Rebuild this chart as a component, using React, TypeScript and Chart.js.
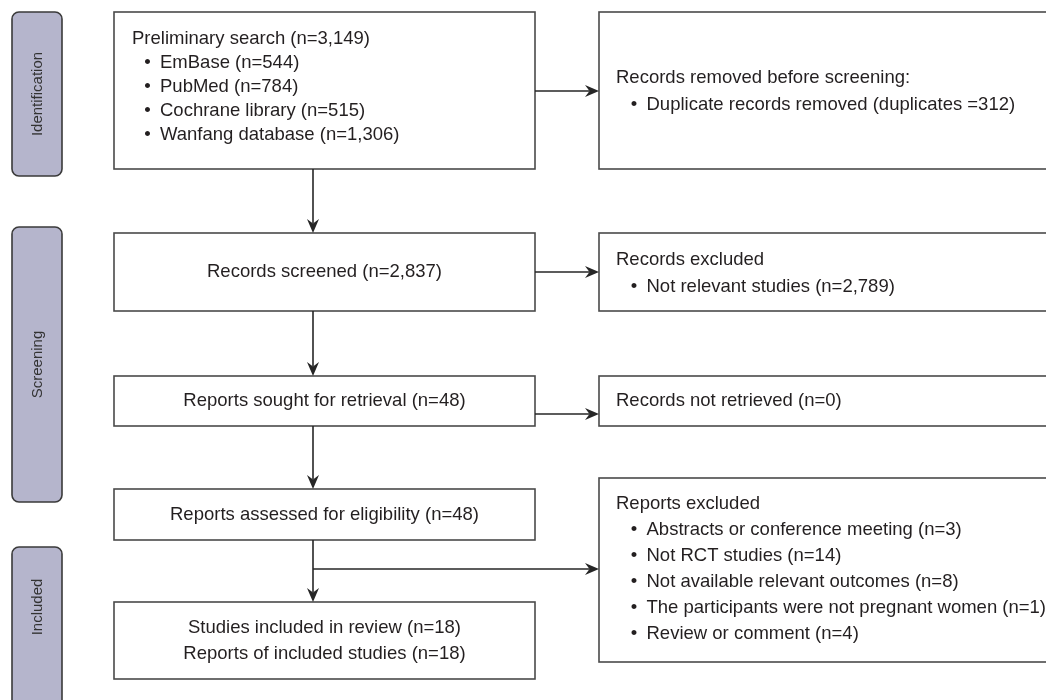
import React, { useEffect, useRef } from "react";
import { Chart, registerables } from "chart.js";

Chart.register(...registerables);

// ---------- data ----------
const phaseLabels = ["Identification", "Screening", "Included"];
const sourceNames = ["EmBase", "PubMed", "Cochrane library", "Wanfang database"];
const sourceCounts = [544, 784, 515, 1306];
const preliminaryTotal = 3149;
const duplicatesRemoved = 312;
const recordsScreened = 2837;
const recordsExcluded = 2789;
const reportsSought = 48;
const reportsNotRetrieved = 0;
const reportsAssessed = 48;
const exclusionReasons = [
  "Abstracts or conference meeting",
  "Not RCT studies",
  "Not available relevant outcomes",
  "The participants were not pregnant women",
  "Review or comment",
];
const exclusionCounts = [3, 14, 8, 1, 4];
const studiesIncluded = 18;
const reportsIncluded = 18;

const fmt = (n: number) => n.toLocaleString("en-US");

// ---------- layout (frame coordinates, 1046 x 700, y downward) ----------
type Line = { text: string; bullet?: boolean };
type Box = {
  x0: number; y0: number; x1: number; y1: number;
  lines: Line[]; align: "left" | "center";
  textX: number; bulletTextX?: number; firstY: number; step: number;
};

const FONT = '18.5px "Liberation Sans", Arial, Helvetica, sans-serif';
const PHASE_FONT = '15px "Liberation Sans", Arial, Helvetica, sans-serif';
const TEXT_COLOR = "#231f20";
const BORDER = "#4a4a4a";
const ARROW = "#262626";
const PHASE_FILL = "#b5b5cc";

const LX0 = 114, LX1 = 535, RX0 = 599, RX1 = 1052, MIDX = 313;

const phases = [
  { y0: 12, y1: 176, labelY: 94 },
  { y0: 227, y1: 502, labelY: 364.5 },
  { y0: 547, y1: 720, labelY: 607 },
];

function buildBoxes(): Box[] {
  return [
    {
      x0: LX0, y0: 12, x1: LX1, y1: 169, align: "left", textX: 132, bulletTextX: 160, firstY: 39, step: 24,
      lines: [
        { text: `Preliminary search (n=${fmt(preliminaryTotal)})` },
        ...sourceNames.map((s, i) => ({ text: `${s} (n=${fmt(sourceCounts[i])})`, bullet: true })),
      ],
    },
    {
      x0: RX0, y0: 12, x1: RX1, y1: 169, align: "left", textX: 616, bulletTextX: 646.5, firstY: 78, step: 27,
      lines: [
        { text: "Records removed before screening:" },
        { text: `Duplicate records removed (duplicates =${fmt(duplicatesRemoved)})`, bullet: true },
      ],
    },
    {
      x0: LX0, y0: 233, x1: LX1, y1: 311, align: "center", textX: (LX0 + LX1) / 2, firstY: 272, step: 0,
      lines: [{ text: `Records screened (n=${fmt(recordsScreened)})` }],
    },
    {
      x0: RX0, y0: 233, x1: RX1, y1: 311, align: "left", textX: 616, bulletTextX: 646.5, firstY: 260, step: 27,
      lines: [
        { text: "Records excluded" },
        { text: `Not relevant studies (n=${fmt(recordsExcluded)})`, bullet: true },
      ],
    },
    {
      x0: LX0, y0: 376, x1: LX1, y1: 426, align: "center", textX: (LX0 + LX1) / 2, firstY: 401, step: 0,
      lines: [{ text: `Reports sought for retrieval (n=${fmt(reportsSought)})` }],
    },
    {
      x0: RX0, y0: 376, x1: RX1, y1: 426, align: "left", textX: 616, firstY: 401, step: 0,
      lines: [{ text: `Records not retrieved (n=${fmt(reportsNotRetrieved)})` }],
    },
    {
      x0: LX0, y0: 489, x1: LX1, y1: 540, align: "center", textX: (LX0 + LX1) / 2, firstY: 514.5, step: 0,
      lines: [{ text: `Reports assessed for eligibility (n=${fmt(reportsAssessed)})` }],
    },
    {
      x0: RX0, y0: 478, x1: RX1, y1: 662, align: "left", textX: 616, bulletTextX: 646.5, firstY: 504, step: 26,
      lines: [
        { text: "Reports excluded" },
        ...exclusionReasons.map((r, i) => ({ text: `${r} (n=${fmt(exclusionCounts[i])})`, bullet: true })),
      ],
    },
    {
      x0: LX0, y0: 602, x1: LX1, y1: 679, align: "center", textX: (LX0 + LX1) / 2, firstY: 628, step: 26,
      lines: [
        { text: `Studies included in review (n=${fmt(studiesIncluded)})` },
        { text: `Reports of included studies (n=${fmt(reportsIncluded)})` },
      ],
    },
  ];
}

// arrows: [x0, y0, x1, y1]
const arrows: number[][] = [
  [MIDX, 169, MIDX, 233],
  [MIDX, 311, MIDX, 376],
  [MIDX, 426, MIDX, 489],
  [MIDX, 540, MIDX, 602],
  [LX1, 91, RX0, 91],
  [LX1, 272, RX0, 272],
  [LX1, 414, RX0, 414],
  [MIDX, 569, RX0, 569],
];

const flowPlugin = {
  id: "flow",
  afterDraw(chart: any) {
    const ctx: CanvasRenderingContext2D = chart.ctx;
    const xs = chart.scales.x;
    const ys = chart.scales.y;
    const X = (v: number) => xs.getPixelForValue(v);
    const Y = (v: number) => ys.getPixelForValue(v);

    ctx.save();
    ctx.fillStyle = "#ffffff";
    ctx.fillRect(0, 0, chart.width, chart.height);

    // phase bars
    phases.forEach((p, i) => {
      const x0 = X(12), x1 = X(62), y0 = Y(p.y0), y1 = Y(p.y1);
      const r = 7;
      ctx.beginPath();
      ctx.moveTo(x0 + r, y0);
      ctx.lineTo(x1 - r, y0);
      ctx.arcTo(x1, y0, x1, y0 + r, r);
      ctx.lineTo(x1, y1 - r);
      ctx.arcTo(x1, y1, x1 - r, y1, r);
      ctx.lineTo(x0 + r, y1);
      ctx.arcTo(x0, y1, x0, y1 - r, r);
      ctx.lineTo(x0, y0 + r);
      ctx.arcTo(x0, y0, x0 + r, y0, r);
      ctx.closePath();
      ctx.fillStyle = PHASE_FILL;
      ctx.fill();
      ctx.lineWidth = 1.6;
      ctx.strokeStyle = "#3a3a3a";
      ctx.stroke();

      ctx.save();
      ctx.translate((x0 + x1) / 2, Y(p.labelY));
      ctx.rotate(-Math.PI / 2);
      ctx.font = PHASE_FONT;
      ctx.fillStyle = "#333333";
      ctx.textAlign = "center";
      ctx.textBaseline = "middle";
      ctx.fillText(phaseLabels[i], 0, 1);
      ctx.restore();
    });

    // boxes
    const boxes = buildBoxes();
    boxes.forEach((b) => {
      ctx.lineWidth = 1.6;
      ctx.strokeStyle = BORDER;
      ctx.strokeRect(X(b.x0), Y(b.y0), X(b.x1) - X(b.x0), Y(b.y1) - Y(b.y0));
      ctx.font = FONT;
      ctx.fillStyle = TEXT_COLOR;
      ctx.textBaseline = "middle";
      b.lines.forEach((ln, j) => {
        const y = Y(b.firstY + j * b.step);
        if (b.align === "center") {
          ctx.textAlign = "center";
          ctx.fillText(ln.text, X(b.textX), y);
        } else if (ln.bullet && b.bulletTextX !== undefined) {
          ctx.textAlign = "center";
          ctx.fillText("\u2022", X(b.bulletTextX - 12.5), y);
          ctx.textAlign = "left";
          ctx.fillText(ln.text, X(b.bulletTextX), y);
        } else {
          ctx.textAlign = "left";
          ctx.fillText(ln.text, X(b.textX), y);
        }
      });
    });

    // arrows
    arrows.forEach(([ax0, ay0, ax1, ay1]) => {
      const x0 = X(ax0), y0 = Y(ay0), x1 = X(ax1), y1 = Y(ay1);
      const ang = Math.atan2(y1 - y0, x1 - x0);
      const len = 14, half = 6, notch = 4.5;
      ctx.strokeStyle = ARROW;
      ctx.lineWidth = 1.6;
      ctx.beginPath();
      ctx.moveTo(x0, y0);
      ctx.lineTo(x1 - Math.cos(ang) * (len - notch), y1 - Math.sin(ang) * (len - notch));
      ctx.stroke();
      ctx.save();
      ctx.translate(x1, y1);
      ctx.rotate(ang);
      ctx.beginPath();
      ctx.moveTo(0, 0);
      ctx.lineTo(-len, -half);
      ctx.lineTo(-len + notch, 0);
      ctx.lineTo(-len, half);
      ctx.closePath();
      ctx.fillStyle = ARROW;
      ctx.fill();
      ctx.restore();
    });

    ctx.restore();
  },
};

export default function App() {
  const ref = useRef<HTMLCanvasElement | null>(null);
  useEffect(() => {
    document.body.style.margin = "0";
    const canvas = ref.current;
    if (!canvas) return;
    const chart = new Chart(canvas, {
      type: "scatter",
      data: { datasets: [{ data: [], pointRadius: 0 }] },
      options: {
        animation: false,
        responsive: false,
        devicePixelRatio: 1,
        layout: { padding: 0 },
        plugins: { legend: { display: false }, tooltip: { enabled: false } },
        scales: {
          x: { type: "linear", min: 0, max: 1046, display: false },
          y: { type: "linear", min: 0, max: 700, reverse: true, display: false },
        },
      },
      plugins: [flowPlugin],
    });
    return () => chart.destroy();
  }, []);
  return (
    <div style={{ width: 1046, height: 700, background: "#fff" }}>
      <canvas ref={ref} width={1046} height={700} style={{ display: "block" }} />
    </div>
  );
}
